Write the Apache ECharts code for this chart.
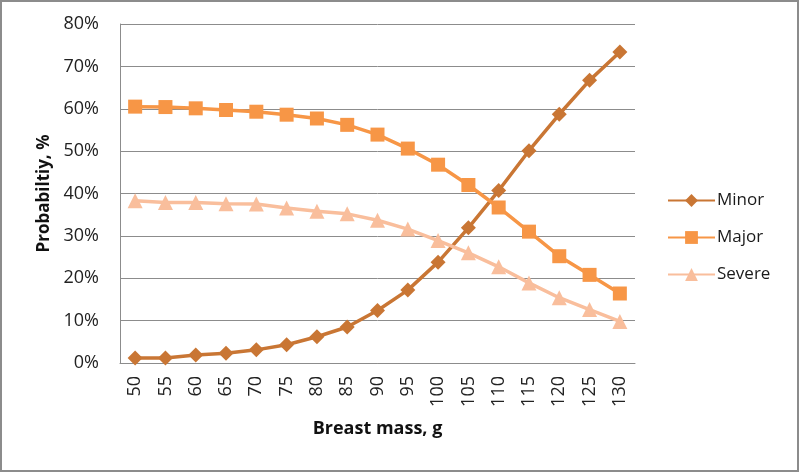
<!DOCTYPE html>
<html><head><meta charset="utf-8">
<script src="https://cdn.jsdelivr.net/npm/echarts@6/dist/echarts.min.js"></script>
<style>html,body{margin:0;padding:0;background:#fff}#c{width:800px;height:473px}</style>
</head><body><div id="c"></div>
<script>
const categories = ['50','55','60','65','70','75','80','85','90','95','100','105','110','115','120','125','130'];
const minor = [1.2,1.2,1.9,2.3,3.1,4.3,6.2,8.5,12.4,17.2,23.8,31.9,40.7,50.1,58.7,66.7,73.4];
const major = [60.5,60.4,60.1,59.7,59.3,58.6,57.7,56.2,53.9,50.6,46.8,42.0,36.7,31.0,25.2,20.8,16.4];
const severe = [38.3,37.9,37.9,37.6,37.5,36.6,35.8,35.2,33.7,31.6,28.9,26.0,22.7,18.9,15.4,12.6,9.8];
const yTicks = [0,10,20,30,40,50,60,70,80];

const font = 'Open Sans';
const chart = echarts.init(document.getElementById('c'));
chart.setOption({
  animation: false,
  textStyle: {fontFamily: font},
  graphic: [{type:'rect', shape:{x:1,y:1,width:797,height:470}, style:{fill:'none', stroke:'#8c8c8c', lineWidth:2}}],
  grid: {left:120, right:165, top:24, bottom:110},
  legend: {
    orient:'vertical', left:662, top:187, itemWidth:47, itemHeight:16, itemGap:20,
    textStyle:{fontSize:17, color:'#1a1a1a', fontFamily:font, padding:[0,0,0,-3]},
    data:['Minor','Major','Severe']
  },
  xAxis: {
    type:'category', data:categories, boundaryGap:true,
    axisLine:{lineStyle:{color:'#8c8c8c', width:1}},
    axisTick:{show:false},
    axisLabel:{rotate:90, fontSize:18, color:'#222', margin:13},
    name:'Breast mass, g', nameLocation:'middle', nameGap:57,
    nameTextStyle:{fontSize:18, fontWeight:'bold', color:'#111'}
  },
  yAxis: {
    type:'value', min:0, max:80, interval:10,
    axisLine:{show:true, lineStyle:{color:'#8c8c8c'}},
    axisTick:{show:false},
    splitLine:{lineStyle:{color:'#8c8c8c'}},
    axisLabel:{fontSize:18, color:'#222', margin:21, formatter: v => yTicks.includes(v) ? v + '%' : ''},
    name:'Probabiltiy, %', nameLocation:'middle', nameGap:65,
    nameTextStyle:{fontSize:17, fontWeight:'bold', color:'#111'}
  },
  series: [
    {name:'Minor', type:'line', data:minor, symbol:'diamond', symbolSize:15,
     lineStyle:{width:3.5, color:'#C97634'}, itemStyle:{color:'#C97634'}},
    {name:'Major', type:'line', data:major, symbol:'rect', symbolSize:14,
     lineStyle:{width:3.5, color:'#F79646'}, itemStyle:{color:'#F79646'}},
    {name:'Severe', type:'line', data:severe, symbol:'triangle', symbolSize:15,
     lineStyle:{width:3.5, color:'#F9BE9C'}, itemStyle:{color:'#F9BE9C'}}
  ]
});
</script></body></html>
